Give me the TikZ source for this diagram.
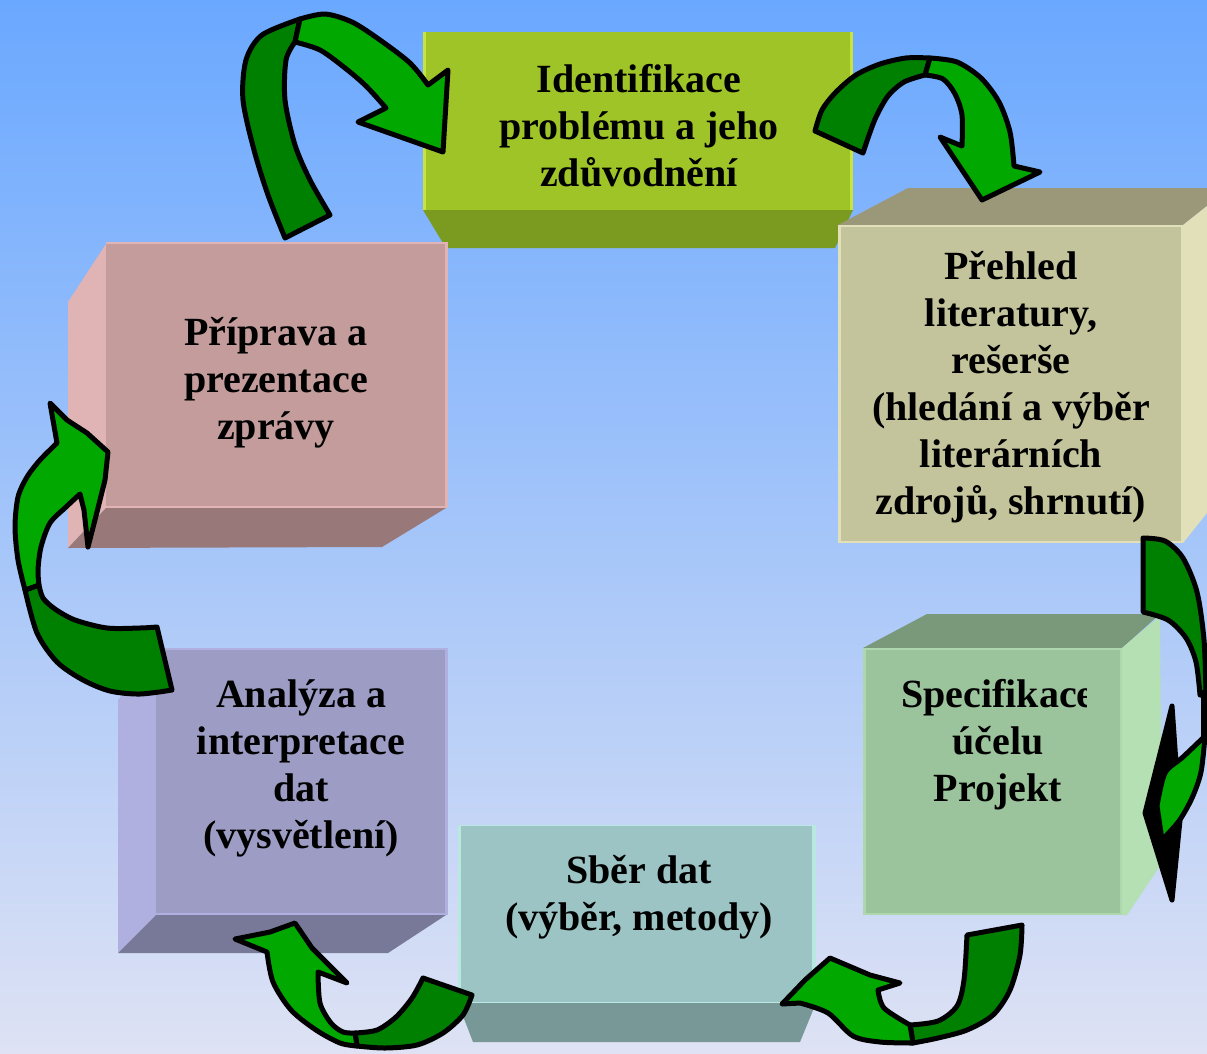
\documentclass[tikz,border=0pt]{standalone}
\usepackage{fontspec}
\setmainfont{Liberation Serif}
\definecolor{gdark}{RGB}{0,128,0}
\definecolor{gbright}{RGB}{0,168,0}
\definecolor{bgtop}{RGB}{106,168,255}
\definecolor{bgmid}{RGB}{155,198,246}
\definecolor{bgbot}{RGB}{222,226,244}
% box colours
\definecolor{aF}{RGB}{158,196,40}\definecolor{aB}{RGB}{122,154,32}\definecolor{aS}{RGB}{200,228,60}
\definecolor{bF}{RGB}{196,196,156}\definecolor{bT}{RGB}{154,152,120}\definecolor{bS}{RGB}{226,224,184}
\definecolor{cF}{RGB}{156,196,156}\definecolor{cT}{RGB}{122,152,122}\definecolor{cS}{RGB}{180,224,180}
\definecolor{dF}{RGB}{156,196,196}\definecolor{dB}{RGB}{120,152,152}\definecolor{dS}{RGB}{184,232,224}
\definecolor{eF}{RGB}{156,156,196}\definecolor{eB}{RGB}{120,120,152}\definecolor{eS}{RGB}{176,176,224}
\definecolor{fF}{RGB}{196,156,156}\definecolor{fB}{RGB}{152,120,120}\definecolor{fS}{RGB}{224,180,180}
\begin{document}
\begin{tikzpicture}[x=1pt,y=-1pt,
  arr/.style={draw=black,line width=5pt,line join=round},
  dk/.style={arr,fill=gdark},
  br/.style={arr,fill=gbright},
  lbl/.style={anchor=base,inner sep=0pt,font=\fontsize{40}{47}\selectfont\bfseries}]
\useasboundingbox (0,0) rectangle (1207,1053);
\shade[top color=bgtop,middle color=bgmid,bottom color=bgbot] (0,0) rectangle (1207,1053);

% ---------- Box 1 : Identifikace ----------
\fill[aB] (423,210) -- (853,210) -- (835,248) -- (446,248) -- cycle;
\fill[aS] (423,32) rectangle (853,210);
\fill[aF] (426,32) rectangle (850,210);
\node[lbl] (t1) at (639,92) {\begin{tabular}[t]{@{}c@{}}Identifikace\\problému a jeho\\zdůvodnění\end{tabular}};

% ---------- Box 2 : Prehled ----------
\fill[bT] (838,225) -- (908,188) -- (1207,188) -- (1207,206) -- (1183,225) -- cycle;
\fill[bS] (1183,225) -- (1207,206) -- (1207,513) -- (1183,543) -- cycle;
\fill[bS] (838,225) rectangle (1183,543);
\fill[bF] (841,227) rectangle (1181,541);
\node[lbl] (t2) at (1011,279) {\begin{tabular}[t]{@{}c@{}}Přehled\\literatury,\\rešerše\\(hledání a výběr\\literárních\\zdrojů, shrnutí)\end{tabular}};

% ---------- Box 3 : Specifikace ----------
\fill[cT] (863,648) -- (927,614) -- (1160,614) -- (1122,648) -- cycle;
\fill[cS] (1122,648) -- (1160,616) -- (1162,863) -- (1127,915) -- (1122,915) -- cycle;
\fill[cS!70!cF] (863,648) rectangle (1122,915);
\fill[cF] (866,650) rectangle (1120,913);
\begin{scope}
\clip (850,600) rectangle (1086,1000);
\node[lbl] (t3) at (998,707) {\begin{tabular}[t]{@{}c@{}}Specifikace\\účelu\\Projekt\end{tabular}};
\end{scope}

% ---------- Box 4 : Sber dat ----------
\fill[dB] (458,1003) -- (816,1003) -- (800,1042) -- (473,1042) -- cycle;
\fill[dS] (458,825) rectangle (816,1003);
\fill[dF] (461,826) rectangle (812,1002);
\node[lbl] (t4) at (639,883) {\begin{tabular}[t]{@{}c@{}}Sběr dat\\(výběr, metody)\end{tabular}};

% ---------- Box 5 : Analyza ----------
\fill[eS] (118,700) -- (156,650) -- (156,915) -- (118,953) -- cycle;
\fill[eB] (118,953) -- (156,915) -- (446,915) -- (388,953) -- cycle;
\fill[eS] (156,648) rectangle (448,915);
\fill[eF] (156,650) rectangle (445,913);
\node[lbl] (t5) at (301,707) {\begin{tabular}[t]{@{}c@{}}Analýza a\\interpretace\\dat\\(vysvětlení)\end{tabular}};

% ---------- Box 6 : Priprava ----------
\fill[fS] (68,302) -- (106,244) -- (106,508) -- (68,548) -- cycle;
\fill[fB] (68,548) -- (106,508) -- (446,508) -- (382,547) -- cycle;
\fill[fS] (106,242) rectangle (448,508);
\fill[fF] (106,244) rectangle (445,506);
\node[lbl] (t6) at (276,345) {\begin{tabular}[t]{@{}c@{}}Příprava a\\prezentace\\zprávy\end{tabular}};

% ---------- Arrow 1 : box 6 -> box 1 ----------
\draw[dk] plot[smooth] coordinates {(285,238) (268,195) (254,150) (243,100) (246,60) (262,35) (300,19)}
  -- (295,42) -- plot[smooth] coordinates {(295,42) (286,60) (285,100) (295,145) (310,180) (330,215)} -- cycle;
\draw[br] plot[smooth] coordinates {(300,19) (325,14) (352,22) (380,40) (410,63) (428,85)}
  -- (448,70) -- (443,152) -- (358,122) -- (386,108)
  -- plot[smooth] coordinates {(386,108) (366,86) (345,68) (320,50) (295,42)} -- cycle;

% ---------- Arrow 2 : box 1 -> box 2 ----------
\draw[dk] plot[smooth] coordinates {(815,131) (822,110) (836,92) (856,75) (880,64) (906,58) (930,58)}
  -- (925,75) -- plot[smooth] coordinates {(925,75) (904,82) (888,96) (876,117) (868,138) (863,153)} -- cycle;
\draw[br] plot[smooth] coordinates {(930,58) (957,62) (981,78) (999,102) (1010,132) (1014,166)}
  -- (1040,172) -- (982,200) -- (940,137) -- (962,146)
  -- plot[smooth] coordinates {(962,146) (962,115) (955,94) (943,79) (925,75)} -- cycle;

% ---------- Arrow 3 : box 2 -> box 3 ----------
\draw[arr,fill=black] (1172,706) -- (1145,813) -- (1172,900) -- (1180,820) -- cycle;
\draw[dk] plot[smooth] coordinates {(1143,538) (1165,541) (1183,558) (1197,592) (1204,640) (1206,695)}
  -- plot[smooth] coordinates {(1200,695) (1196,662) (1186,638) (1168,620) (1143,612)} -- cycle;
\draw[line width=6pt] (1204,690) -- (1204,740);
\draw[br] plot[smooth] coordinates {(1205,736) (1201,772) (1192,798) (1179,821) (1162,840)}
  -- plot[smooth] coordinates {(1157,806) (1165,773) (1183,757) (1205,736)} -- cycle;

% ---------- Arrow 4 : box 3 -> box 4 ----------
\draw[dk] plot[smooth] coordinates {(1022,925) (1020,955) (1010,990) (993,1015) (967,1030) (938,1038) (913,1043)}
  -- (910,1025) -- plot[smooth] coordinates {(910,1025) (938,1021) (957,1006) (964,980) (967,935)} -- cycle;
\draw[br] plot[smooth] coordinates {(913,1043) (880,1042) (853,1036) (828,1013) (800,1003)}
  -- (782,1004) -- (805,980) -- (830,958) -- (870,975) -- (900,983) -- (878,990)
  -- plot[smooth] coordinates {(878,990) (884,1008) (910,1025)} -- cycle;

% ---------- Arrow 5 : box 4 -> box 5 ----------
\draw[dk] plot[smooth] coordinates {(472,995) (463,1015) (443,1033) (417,1045) (385,1048) (357,1046)}
  -- (355,1033) -- plot[smooth] coordinates {(355,1033) (377,1030) (396,1017) (412,998) (423,978)} -- cycle;
\draw[br] plot[smooth] coordinates {(357,1046) (340,1043) (316,1030) (291,1010) (273,982) (267,952)}
  -- (235,939) -- (270,932) -- (295,923) -- (312,948) -- (347,983) -- (318,972)
  -- plot[smooth] coordinates {(318,972) (320,1003) (331,1023) (343,1032) (355,1033)} -- cycle;

% ---------- Arrow 6 : box 5 -> box 6 ----------
\draw[dk] plot[smooth] coordinates {(172,690) (140,694) (110,691) (83,680) (57,662) (37,633) (25,590)}
  -- (39,585) -- plot[smooth] coordinates {(39,585) (43,598) (55,609) (75,620) (107,628) (140,628) (157,627)} -- cycle;
\draw[br] plot[smooth] coordinates {(25,590) (18,560) (15,527) (18,497) (27,477) (40,460) (57,443)}
  -- (50,403) -- (67,420) -- (87,433) -- (108,452) -- (105,480) -- (97,512) -- (88,547) -- (84,510) -- (80,494)
  -- plot[smooth] coordinates {(80,494) (66,507) (50,523) (41,547) (38,570) (39,585)} -- cycle;
\end{tikzpicture}
\end{document}
